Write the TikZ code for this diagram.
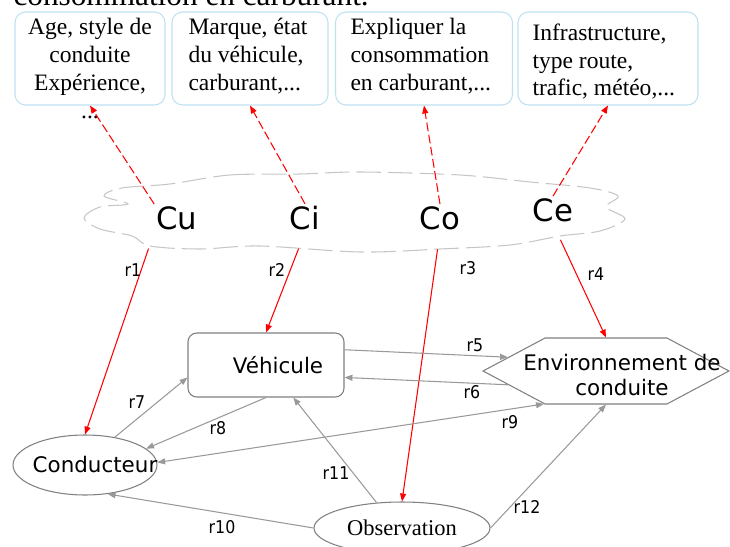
\documentclass[tikz,border=0pt]{standalone}
\usepackage{fontspec}
\setmainfont{Liberation Serif}
\setsansfont{DejaVu Sans}
\newfontfamily\condfont{DejaVu Sans Condensed}
\usepackage{xcolor}
\usetikzlibrary{
    positioning,
    shapes.geometric,
    shapes.symbols,
    arrows.meta
}
\definecolor{boxblue}{RGB}{190,225,242}

\begin{document}
\begin{tikzpicture}[
    x=0.02cm, y=-0.02cm,
    line width=0.6pt,
    infobox/.style={
        rectangle,
        draw=boxblue,
        rounded corners=6pt,
        minimum height=1.86cm
    },
    infotext/.style={
        inner sep=0pt,
        font=\fontsize{13.4}{15.9}\selectfont
    },
    cloudline/.style={draw=gray!45, dash pattern=on 14pt off 4pt},
    factor/.style={inner sep=1pt, font=\sffamily\fontsize{17.5}{20}\selectfont},
    entityfont/.style={font=\sffamily\fontsize{12.2}{14.7}\selectfont},
    entity/.style={entityfont, draw=gray},
    rlabel/.style={inner sep=0pt, font=\condfont\fontsize{10}{12}\selectfont},
    causal/.style={-{Triangle[length=4.5pt,width=3.4pt]}, red, shorten <=10pt},
    explain/.style={-{Triangle[length=4.5pt,width=3.4pt]}, red, dash pattern=on 5pt off 2pt},
    relation/.style={-{Triangle[length=4.5pt,width=3.4pt]}, gray!80}
]
\useasboundingbox (0,0) rectangle (730,547);

% Cut caption line
\node[anchor=base west, inner sep=0pt, font=\fontsize{17.8}{20}\selectfont] (caption) at (13,6) {consommation en carburant.};

% Explanation boxes
\node[infobox, minimum width=3cm] (b1) at (90,58.5) {};
\node[infobox, minimum width=3.12cm] (b2) at (250,58.5) {};
\node[infobox, minimum width=3.54cm] (b3) at (424,58.5) {};
\node[infobox, minimum width=3.6cm] (b4) at (608,58.5) {};

\node[infotext, anchor=north, align=center] (t1) at (90,18) {Age, style de\\conduite\\Expérience,\\...};
\node[infotext, anchor=north west, align=left] (t2) at (188,18) {Marque, état\\du véhicule,\\carburant,...};
\node[infotext, anchor=north west, align=left] (t3) at (350,18) {Expliquer la\\consommation\\en carburant,...};
\node[infotext, anchor=north west, align=left] (t4) at (532,23) {Infrastructure,\\type route,\\trafic, météo,...};

% Cloud of factors
\draw[cloudline] plot[smooth cycle, tension=0.55] coordinates {
    (170,184) (230,175) (300,174) (360,172) (460,175) (530,182) (590,188)
    (618,196) (606,207) (625,219) (600,231) (560,236) (510,245) (440,249)
    (360,252) (260,246) (200,249) (150,246) (132,236) (100,229) (84,218)
    (100,207) (128,204) (104,196) (122,188)};
\node[factor] (cu) at (177,218) {Cu};
\node[factor] (ci) at (305,218) {Ci};
\node[factor] (co) at (440,218) {Co};
\node[factor] (ce) at (553,210) {Ce};

% Entities
\node[entity, rounded corners=5pt, minimum width=3.12cm, minimum height=1.28cm] (veh) at (266,365) {\hspace*{0.48cm}Véhicule};
\node[entity, ellipse, inner sep=0pt, minimum width=2.88cm, minimum height=1.2cm] (cond) at (85,465) {\makebox[0pt]{\hspace*{0.4cm}Conducteur}};
\node[entity, ellipse, inner sep=0pt, font=\fontsize{12.8}{15}\selectfont,
      minimum width=3.52cm, minimum height=1.04cm] (obs) at (402,528) {Observation};
\node[entity, signal, signal to=west and east, signal pointer angle=56, inner sep=0pt,
      minimum width=4.92cm, minimum height=1.32cm] (env) at (606,371) {};
\node[entityfont, align=center, inner sep=0pt] (envtext) at (622,375) {Environnement de\\conduite};

% Factors explained
\draw[explain] (cu.north west) -- (b1.south);
\draw[explain] (ci.north) -- (b2.south);
\draw[explain] (co.north) -- (b3.south);
\draw[explain] (ce.north) -- (b4.south);

% Factors acting on entities
\draw[causal] (cu.south west) -- (cond.north);
\draw[causal] (ci.south) -- (veh.north);
\draw[causal] (co.south) -- (obs.north);
\draw[causal] (ce.south) -- (env.north);

% Relations between entities
\draw[relation] (veh.11) -- (env.172);
\draw[relation] (env.188) -- (veh.-9);
\draw[relation] (cond.43) -- (veh.189);
\draw[relation] (veh.south) -- (cond.15);
\draw[relation, {Triangle[length=4.5pt,width=3.4pt]}-{Triangle[length=4.5pt,width=3.4pt]}] (cond.2) -- (env.208);
\draw[relation] (obs.west) -- (cond.-52);
\draw[relation] (obs.135) -- (veh.-50);
\draw[relation] (obs.east) -- (env.south);

% Relation labels
\foreach \r/\x/\y in {r1/133/270, r2/277/270, r3/468/268, r4/596/274,
                     r5/475/345, r6/472/392, r7/137/402, r8/218/428,
                     r9/510/422, r10/222/527, r11/336/473, r12/527/507}
    \node[rlabel] (l\r) at (\x,\y) {\r};

\end{tikzpicture}
\end{document}
